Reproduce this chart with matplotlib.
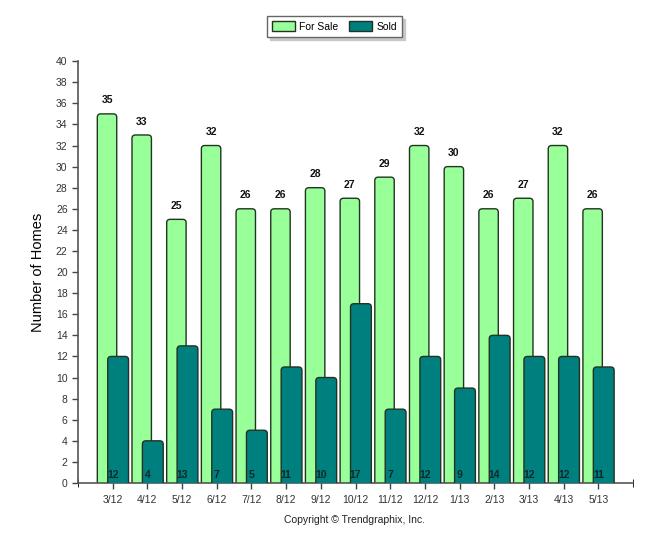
import matplotlib.pyplot as plt
import numpy as np
from matplotlib.patches import FancyBboxPatch, Patch

plt.rcParams["font.family"] = ["Liberation Sans", "DejaVu Sans"]

months = ["3/12", "4/12", "5/12", "6/12", "7/12", "8/12", "9/12", "10/12",
          "11/12", "12/12", "1/13", "2/13", "3/13", "4/13", "5/13"]
for_sale = [35, 33, 25, 32, 26, 26, 28, 27, 29, 32, 30, 26, 27, 32, 26]
sold = [12, 4, 13, 7, 5, 11, 10, 17, 7, 12, 9, 14, 12, 12, 11]

green = "#99ff99"
teal = "#007f7f"
edge = "#223322"

fig = plt.figure(figsize=(6.56, 5.46), dpi=100)
ax = fig.add_axes([0.119, 0.1154, 0.846, 0.7726])

x = np.arange(len(months))
b1 = ax.bar(x - 0.165, for_sale, width=0.56, color=green, edgecolor=edge,
            linewidth=1.0, label="For Sale", zorder=2)
b2 = ax.bar(x + 0.155, sold, width=0.6, color=teal, edgecolor=edge,
            linewidth=1.0, label="Sold", zorder=3)


def round_tops(bars, z):
    # swap each plain rectangle for one with rounded top corners
    for r in bars:
        x0, w, h = r.get_x(), r.get_width(), r.get_height()
        p = FancyBboxPatch((x0, -2), w, h + 2,
                           boxstyle="round,pad=0,rounding_size=0.1",
                           mutation_aspect=3.2,
                           facecolor=r.get_facecolor(), edgecolor=edge,
                           linewidth=1.0, zorder=z)
        ax.add_patch(p)
        r.set_visible(False)


round_tops(b1, 2)
round_tops(b2, 3)

for xi, v in zip(x, for_sale):
    ax.text(xi - 0.165, v + 0.8, str(v), ha="center", va="bottom",
            fontsize=7.5, fontweight="bold", color="#111111")
for xi, v in zip(x, sold):
    ax.text(xi, 0.25, str(v), ha="center", va="bottom",
            fontsize=7.5, fontweight="bold", color="#0a2a2a", zorder=4)

ax.set_xlim(-1, 15)
ax.set_ylim(0, 40)
ax.set_yticks(range(0, 41, 2))
ax.set_xticks(x)
ax.set_xticklabels(months)
ax.set_xticks([-1, 15], minor=True)
ax.tick_params(axis="both", labelsize=7.5, colors="#444444", length=4, width=1)
ax.tick_params(axis="both", labelcolor="#333333")
ax.tick_params(axis="x", which="minor", length=6, direction="inout")
ax.tick_params(axis="x", pad=5)
for s in ["top", "right"]:
    ax.spines[s].set_visible(False)
for s in ["left", "bottom"]:
    ax.spines[s].set_color("#555555")
    ax.spines[s].set_linewidth(1.2)

ax.set_ylabel("Number of Homes", fontsize=10.5, color="#000000", labelpad=8)

handles = [Patch(facecolor=green, edgecolor=edge, label="For Sale"),
           Patch(facecolor=teal, edgecolor=edge, label="Sold")]
leg = fig.legend(handles=handles, loc="upper center", bbox_to_anchor=(0.51, 0.98),
                 ncol=2, fontsize=7.5, frameon=True, fancybox=False,
                 shadow={"color": "#c8c8c8", "alpha": 1},
                 handlelength=2.2, handleheight=1.1, columnspacing=1.0,
                 borderpad=0.5, edgecolor="#666666", handletextpad=0.4)

fig.text(0.54, 0.048, "Copyright \u00a9 Trendgraphix, Inc.", ha="center",
         va="center", fontsize=7.5, color="#222222")

fig.savefig("out.png", dpi=100)
